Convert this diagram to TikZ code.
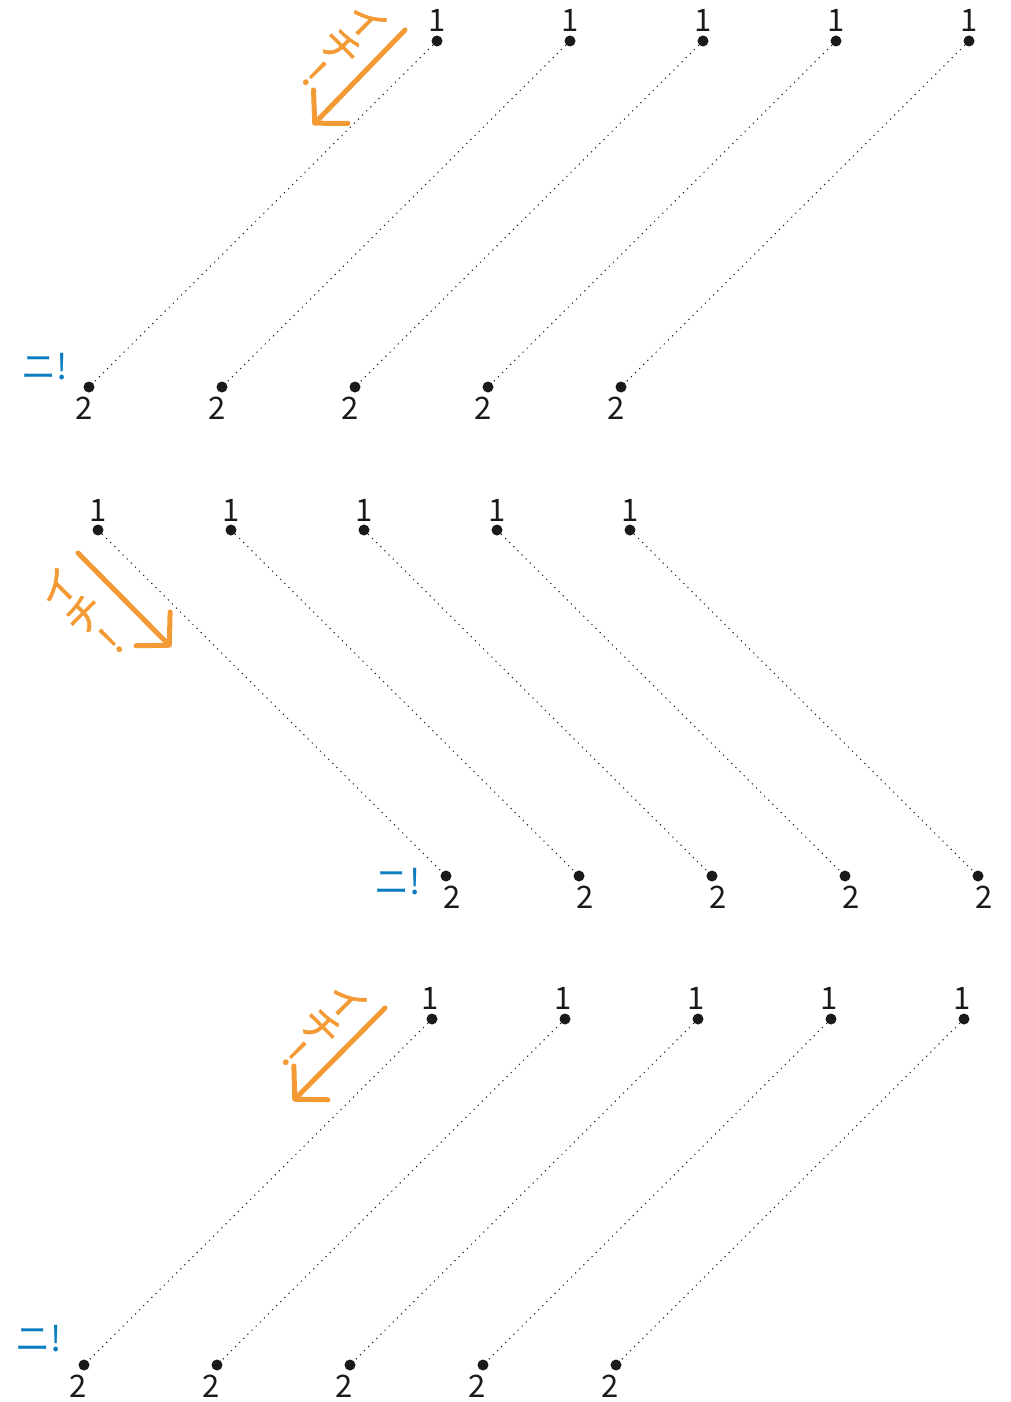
\documentclass[tikz,border=0pt]{standalone}
\usepackage{fontspec}
\setmainfont{Noto Sans CJK JP}
\newfontfamily\orafont[FakeBold=1.2]{Noto Sans CJK JP}
\usetikzlibrary{arrows.meta,calc}
\definecolor{ora}{HTML}{F39A35}
\definecolor{blu}{HTML}{0A7CC1}
\definecolor{ink}{HTML}{1A1A1A}
\tikzset{
  pt/.style={circle,fill=ink,inner sep=0pt,minimum size=11pt},
  num/.style={inner sep=0pt,text=ink,font=\fontsize{31}{31}\selectfont},
  guide/.style={draw=ink,line width=1pt,dash pattern=on 1.2pt off 4.6pt},
  ni/.style={inner sep=0pt,text=blu,font=\fontsize{35}{35}\selectfont},
  ichi/.style={inner sep=0pt,text=ora,align=center,font=\orafont\fontsize{39}{37}\selectfont},
  dir/.style={draw=ora,line width=5pt,line cap=round,
    -{Straight Barb[length=23pt,width=48pt,line width=5pt,round]}}
}
\begin{document}
\begin{tikzpicture}[x=1pt,y=-1pt]
\useasboundingbox (0,0) rectangle (1011,1402);
% ---------- section 1 ----------
\foreach \i in {1,...,5}{
  \node[pt] (sa\i) at ({437+133*(\i-1)},41) {};
  \node[pt] (sb\i) at ({89+133*(\i-1)},387) {};
  \draw[guide] (sa\i) -- (sb\i);
  \node[num] (sl\i) at ($(sa\i)+(0,-21)$) {1};
  \node[num] (sm\i) at ($(sb\i)+(-5,21)$) {2};
}
\node[ni] (sni) at (45,367) {ニ!};
\coordinate (sA) at (405,30);
\coordinate (sB) at (313,125);
\draw[dir] (sA) -- (sB);
\node[ichi,rotate=-45] (sichi) at (341,47) {イ\\チ\\!};
% ---------- section 2 ----------
\foreach \i in {1,...,5}{
  \node[pt] (ta\i) at ({98+133*(\i-1)},530) {};
  \node[pt] (tb\i) at ({446+133*(\i-1)},876) {};
  \draw[guide] (ta\i) -- (tb\i);
  \node[num] (tl\i) at ($(ta\i)+(0,-20)$) {1};
  \node[num] (tm\i) at ($(tb\i)+(6,21)$) {2};
}
\node[ni] (tni) at (398,882) {ニ!};
\coordinate (tA) at (78,553);
\coordinate (tB) at (171,647);
\draw[dir] (tA) -- (tB);
\node[ichi,rotate=45] (tichi) at (84,614) {イ\\チ\\!};
% ---------- section 3 ----------
\foreach \i in {1,...,5}{
  \node[pt] (ua\i) at ({432+133*(\i-1)},1019) {};
  \node[pt] (ub\i) at ({84+133*(\i-1)},1365) {};
  \draw[guide] (ua\i) -- (ub\i);
  \node[num] (ul\i) at ($(ua\i)+(-2,-21)$) {1};
  \node[num] (um\i) at ($(ub\i)+(-6,21)$) {2};
}
\node[ni] (uni) at (39,1339) {ニ!};
\coordinate (uA) at (385,1008);
\coordinate (uB) at (293,1101);
\draw[dir] (uA) -- (uB);
\node[ichi,rotate=-45] (uichi) at (321,1027) {イ\\チ\\!};
\end{tikzpicture}
\end{document}
